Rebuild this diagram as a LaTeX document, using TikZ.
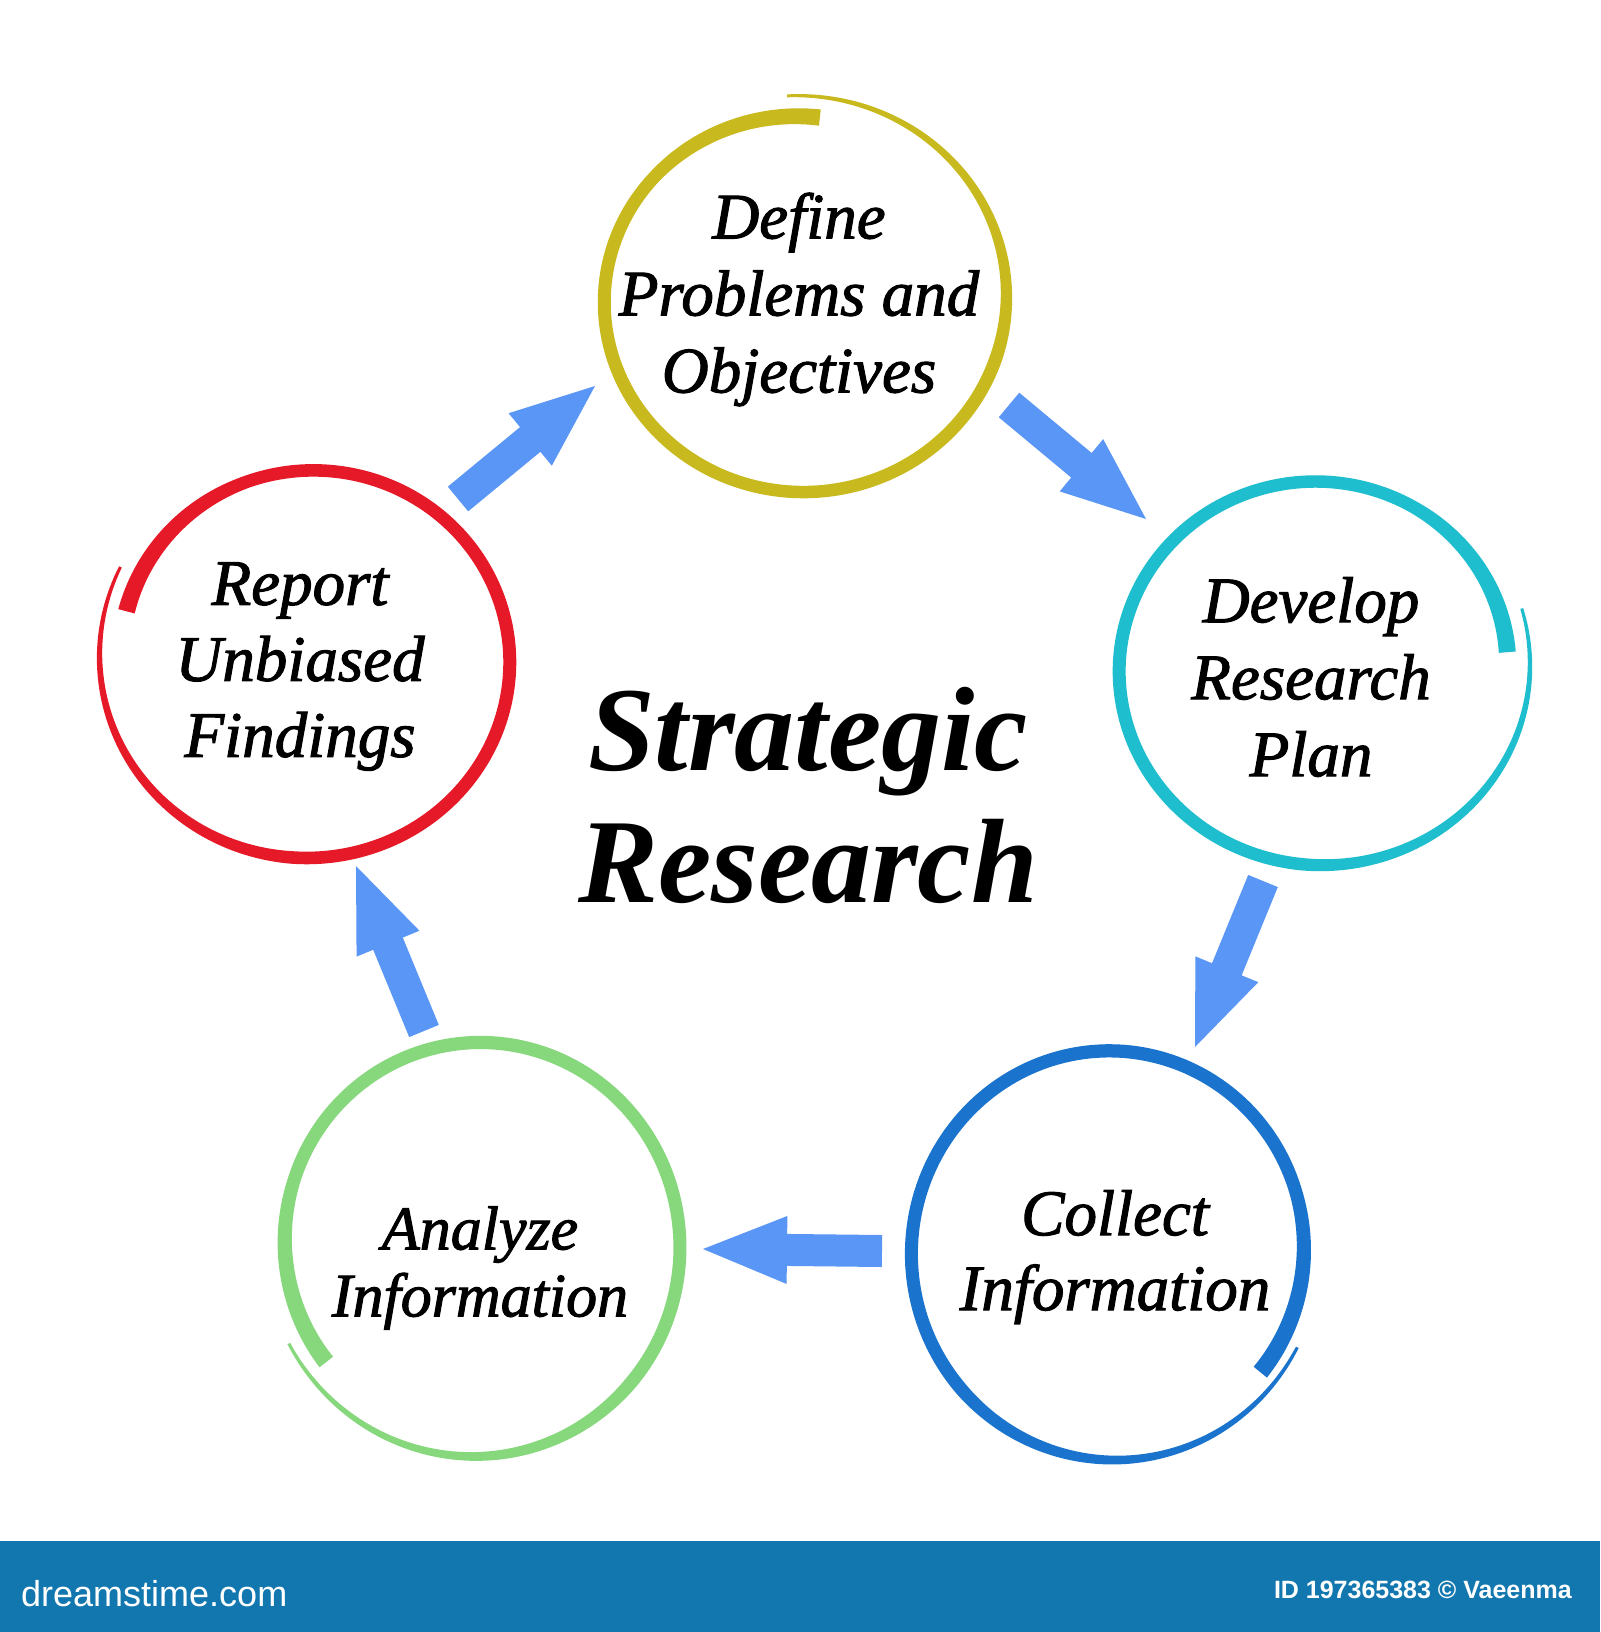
\documentclass[tikz,border=0pt]{standalone}
\usepackage{fontspec}
\setmainfont{Liberation Serif}
\setsansfont{Liberation Sans}
\newfontfamily\steplabelfont{Liberation Serif Italic}[FakeBold=1.6]
\usetikzlibrary{calc}
\definecolor{ringYellow}{RGB}{200,186,30}
\definecolor{ringCyan}{RGB}{30,190,206}
\definecolor{ringBlue}{RGB}{26,115,205}
\definecolor{ringGreen}{RGB}{135,215,125}
\definecolor{ringRed}{RGB}{230,25,40}
\definecolor{flowBlue}{RGB}{90,150,245}
\definecolor{bannerBlue}{RGB}{17,119,174}
\tikzset{
  steptext/.style={font=\fontsize{65}{77}\selectfont\steplabelfont, align=center, inner sep=0pt, text=black},
  titletext/.style={font=\fontsize{120}{132}\selectfont\bfseries\itshape, align=center, inner sep=0pt, text=black},
  flowfill/.style={fill=flowBlue},
}
% ring: [vertical factor] cx cy start-angle end-angle r-start r-end colour
\newcommand\ring[8][1]{%
  \def\rA{#4}\def\rB{#5}\def\rRa{#6}\def\rRb{#7}\def\rF{#1}%
  \fill[#8] plot[variable=\t, domain=#4:#5, samples=300]
      ({#2+(rr(\t)+ww(\t)/2)*cos(\t)},{#3+\rF*(rr(\t)+ww(\t)/2)*sin(\t)})
    -- plot[variable=\t, domain=#5:#4, samples=300]
      ({#2+(rr(\t)-ww(\t)/2)*cos(\t)},{#3+\rF*(rr(\t)-ww(\t)/2)*sin(\t)})
    -- cycle;}
% block arrow from tail coordinate to tip coordinate
\newcommand\blockarrow[2]{%
  \path ($(#2)!84pt!(#1)$) coordinate (#1-h);
  \fill[flowfill] ($(#1)!16pt!90:(#2)$) -- ($(#1-h)!16pt!90:(#2)$)
     -- ($(#1-h)!34pt!90:(#2)$) -- (#2) -- ($(#1-h)!34pt!-90:(#2)$)
     -- ($(#1-h)!16pt!-90:(#2)$) -- ($(#1)!16pt!-90:(#2)$) -- cycle;}
\begin{document}
\begin{tikzpicture}[x=1pt,y=-1pt,
  declare function={
    rr(\u)=\rRa+(\rRb-\rRa)*(\u-\rA)/(\rB-\rA);
    ww(\u)=3+10*min(1,((\u-\rA)/(\rB-\rA))/0.3)+4*max(0,(((\u-\rA)/(\rB-\rA))-0.85)/0.15);
  }]
\useasboundingbox (0,0) rectangle (1600,1632);
\fill[white] (0,0) rectangle (1600,1632);

% rings
\ring[0.96]{800}{299}{266.5}{636}{212}{190}{ringYellow}
\ring[0.97]{310}{659}{206.6}{-165}{212}{190}{ringRed}
\ring[0.96]{1319}{668}{-17}{355}{212}{189}{ringCyan}
\ring[1.02]{1112}{1251}{27}{398.7}{208}{190}{ringBlue}
\ring[1.02]{477}{1244}{152.6}{-217.5}{212}{190}{ringGreen}

% texts
\node[steptext] (define) at (799,299.5) {Define\\Problems and\\Objectives};
\node[steptext, font=\fontsize{65}{76}\selectfont\steplabelfont] (report) at (300,666.5) {Report\\Unbiased\\Findings};
\node[steptext] (develop) at (1311,677) {Develop\\Research\\Plan};
\node[steptext, font=\fontsize{65}{75}\selectfont\steplabelfont] (collect) at (1115,1257) {Collect\\Information};
\node[steptext, font=\fontsize{62}{67}\selectfont\steplabelfont] (analyze) at (480,1268) {Analyze\\Information};
\node[titletext] (title) at (808,795) {Strategic\\Research};

% arrows
\coordinate (a1s) at (458,499);  \coordinate (a1e) at (595,386);
\coordinate (a2s) at (1009,405); \coordinate (a2e) at (1146,519);
\coordinate (a3s) at (1263,881); \coordinate (a3e) at (1195,1047);
\coordinate (a4s) at (882,1251); \coordinate (a4e) at (703,1249);
\coordinate (a5s) at (424,1031); \coordinate (a5e) at (356,866);
\blockarrow{a1s}{a1e}
\blockarrow{a2s}{a2e}
\blockarrow{a3s}{a3e}
\blockarrow{a4s}{a4e}
\blockarrow{a5s}{a5e}

% banner
\fill[bannerBlue] (0,1541) rectangle (1600,1632);
\node[font=\sffamily\fontsize{36}{36}\selectfont, text=white, anchor=base west, inner sep=0pt] (brand) at (21,1606) {dreamstime.com};
\node[font=\sffamily\bfseries\fontsize{25}{25}\selectfont, text=white, anchor=base east, inner sep=0pt] (imgid) at (1572,1598) {ID 197365383 © Vaeenma};
\end{tikzpicture}
\end{document}
